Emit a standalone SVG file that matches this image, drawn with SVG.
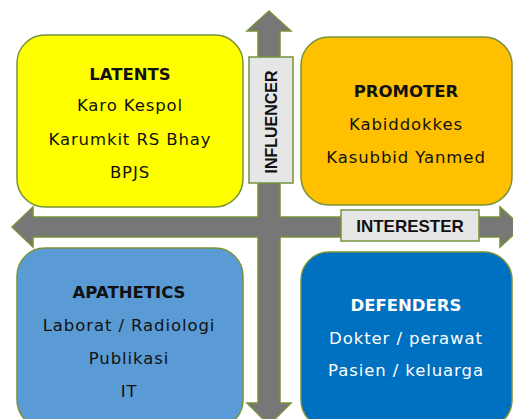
<svg xmlns="http://www.w3.org/2000/svg" width="513" height="419" viewBox="0 0 513 419">
<style>
.box{stroke:#77933C;stroke-width:1.5}
.arrow{fill:#777777;stroke:#77933C;stroke-width:1.5;stroke-linejoin:miter}
.lbl{fill:#E6E6E6;stroke:#77933C;stroke-width:1.5}
.t{font-family:"DejaVu Sans",Verdana,sans-serif;font-size:16.5px;text-anchor:middle;letter-spacing:0.9px}
.h{font-family:"DejaVu Sans",Verdana,sans-serif;font-size:16.5px;font-weight:bold;text-anchor:middle}
.ax{font-family:"Liberation Sans",Arial,sans-serif;font-weight:bold;text-anchor:middle;fill:#111}
</style>
<rect width="513" height="419" fill="#FFFFFF"/>
<g id="connectors">
<path id="axis-influencer" class="arrow" d="M269,11 L291,31 L280,31 L280,403 L291,403 L269,425 L247,403 L258,403 L258,31 L247,31 Z"/>
<path id="axis-interester" class="arrow" d="M12,227 L33,207 L33,217 L500,217 L500,207 L522,227 L500,247 L500,237 L33,237 L33,247 Z"/>
<rect x="258.8" y="215" width="20.4" height="24" fill="#777777"/>
</g>
<g id="latents">
<rect class="box" x="17" y="35" width="226" height="172" rx="28" fill="#FFFF00"/>
<text class="h" x="130" y="80" fill="#111">LATENTS</text>
<text class="t" x="130" y="111" fill="#111">Karo Kespol</text>
<text class="t" x="130" y="145" fill="#111">Karumkit RS Bhay</text>
<text class="t" x="130" y="178" fill="#111">BPJS</text>
</g>
<g id="promoter">
<rect class="box" x="301" y="37" width="211" height="168" rx="28" fill="#FFC000"/>
<text class="h" x="406" y="97" fill="#111">PROMOTER</text>
<text class="t" x="406" y="130" fill="#111">Kabiddokkes</text>
<text class="t" x="406" y="163" fill="#111">Kasubbid Yanmed</text>
</g>
<g id="apathetics">
<rect class="box" x="17" y="248" width="226" height="180" rx="28" fill="#5B9BD5"/>
<text class="h" x="129" y="298" fill="#111">APATHETICS</text>
<text class="t" x="129" y="331" fill="#111">Laborat / Radiologi</text>
<text class="t" x="129" y="364" fill="#111">Publikasi</text>
<text class="t" x="129" y="397" fill="#111">IT</text>
</g>
<g id="defenders">
<rect class="box" x="301" y="252" width="211" height="176" rx="28" fill="#0070C0"/>
<text class="h" x="406" y="311" fill="#FFFFFF">DEFENDERS</text>
<text class="t" x="406" y="344" fill="#FFFFFF">Dokter / perawat</text>
<text class="t" x="406" y="376" fill="#FFFFFF">Pasien / keluarga</text>
</g>
<g id="influencer">
<rect class="lbl" x="249" y="57" width="44" height="126"/>
<text class="ax" transform="translate(277,122) rotate(-90)" x="0" y="0" font-size="16">INFLUENCER</text>
</g>
<g id="interester">
<rect class="lbl" x="341" y="210" width="138" height="31"/>
<text class="ax" x="410" y="232" font-size="17">INTERESTER</text>
</g>
</svg>
